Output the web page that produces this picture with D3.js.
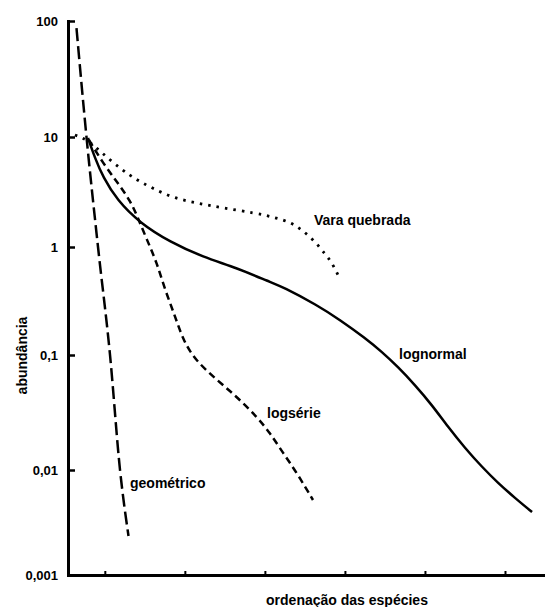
<!DOCTYPE html>
<html>
<head>
<meta charset="utf-8">
<script src="https://cdnjs.cloudflare.com/ajax/libs/d3/7.8.5/d3.min.js"></script>
<style>
  body { margin: 0; background: #fff; }
  text { font-family: "Liberation Sans", Arial, sans-serif; font-weight: bold; fill: #000; }
</style>
</head>
<body>
<svg id="chart" width="545" height="607"></svg>
<script>

// ordem das espécies (rank) e abundâncias
var geoRank   = [6.46, 7.71, 9.15, 10.65, 11.90, 12.96];
var geoAbund  = [87.0, 10, 1, 0.1, 0.01, 0.00235];

var logsRank  = [8.02, 9.77, 11.52, 13.15, 14.15, 15.27, 16.52, 17.52, 18.77, 19.77, 21.27, 24.02, 26.52, 29.02, 30.64, 32.26, 34.01, 36.01];
var logsAbund = [9.39, 5.80, 3.90, 2.67, 1.83, 1.16, 0.711, 0.400, 0.230, 0.138, 0.0905, 0.0606, 0.0431, 0.0289, 0.0210, 0.0141, 0.00936, 0.00518];

var lnRank    = [7.90, 8.77, 9.77, 11.52, 14.40, 18.15, 22.27, 26.52, 30.64, 32.26, 36.51, 39.39, 42.51, 44.64, 46.63, 48.76, 50.88, 52.88, 55.01, 57.13, 59.13, 61.25, 63.38];
var lnAbund   = [9.79, 6.44, 4.33, 2.67, 1.65, 1.11, 0.808, 0.639, 0.474, 0.426, 0.290, 0.211, 0.1437, 0.1066, 0.0787, 0.0548, 0.0367, 0.0237, 0.0155, 0.01062, 0.00752, 0.00541, 0.00398];

var bsRank    = [6.27, 7.90, 9.65, 12.15, 14.02, 15.90, 18.52, 21.52, 24.77, 28.77, 31.02, 33.14, 34.64, 36.26, 37.51, 38.26, 39.14];
var bsAbund   = [10.4, 9.39, 7.15, 5.01, 4.06, 3.44, 2.79, 2.51, 2.26, 2.04, 1.87, 1.69, 1.43, 1.13, 0.861, 0.742, 0.550];

var yTicks      = [100, 10, 1, 0.1, 0.01, 0.001];
var yTickLabels = ["100", "10", "1", "0,1", "0,01", "0,001"];
var xTicks      = [10, 20, 30, 40, 50, 60];

var svg = d3.select("#chart");

// escalas (log desenhado à mão, décadas com tamanhos ligeiramente diferentes)
var x = d3.scaleLinear()
    .domain([5.4, 65])
    .range([68, 545]);

var y = d3.scaleLog()
    .domain([0.001, 0.01, 0.1, 1, 10, 100])
    .range([575, 470, 355, 247, 137, 21]);

function zip(a, b) {
  return a.map(function(d, i) { return {r: d, v: b[i]}; });
}

var line = d3.line()
    .x(function(d) { return x(d.r); })
    .y(function(d) { return y(d.v); })
    .curve(d3.curveMonotoneX);

// curva suavizada p/ lognormal e logsérie (pontos lidos têm ruído)
var smooth = d3.line()
    .x(function(d) { return x(d.r); })
    .y(function(d) { return y(d.v); })
    .curve(d3.curveBasis);

// eixo y
var yAxis = svg.append("g")
    .attr("transform", "translate(" + x(5.4) + ",0)")
    .call(d3.axisLeft(y)
      .tickValues(yTicks)
      .tickFormat(function(d, i) { return yTickLabels[i]; })
      .tickSizeInner(-7)
      .tickSizeOuter(0)
      .tickPadding(10));
yAxis.select(".domain").attr("stroke-width", 3).attr("stroke-linecap", "square");
yAxis.selectAll(".tick line").attr("stroke-width", 2.5);
yAxis.selectAll(".tick text")
    .attr("font-size", 13)
    .attr("font-family", null);

// eixo x
var xAxis = svg.append("g")
    .attr("transform", "translate(0," + y(0.001) + ")")
    .call(d3.axisBottom(x)
      .tickValues(xTicks)
      .tickFormat("")
      .tickSizeInner(-4)
      .tickSizeOuter(0));
xAxis.select(".domain").attr("stroke-width", 3);
xAxis.selectAll(".tick line").attr("stroke-width", 2);

// curvas
svg.append("path")
    .datum(zip(geoRank, geoAbund))
    .attr("fill", "none")
    .attr("stroke", "#000")
    .attr("stroke-width", 2.5)
    .style("stroke-dasharray", ("13, 5"))
    .attr("d", line);

svg.append("path")
    .datum(zip(logsRank, logsAbund))
    .attr("fill", "none")
    .attr("stroke", "#000")
    .attr("stroke-width", 2.5)
    .style("stroke-dasharray", ("7, 4.5"))
    .attr("d", smooth);

svg.append("path")
    .datum(zip(lnRank, lnAbund))
    .attr("fill", "none")
    .attr("stroke", "#000")
    .attr("stroke-width", 2.5)
    .attr("d", smooth);

svg.append("path")
    .datum(zip(bsRank, bsAbund))
    .attr("fill", "none")
    .attr("stroke", "#000")
    .attr("stroke-width", 2.8)
    .style("stroke-dasharray", ("2.5, 6"))
    .attr("d", smooth);

// rótulos
var labels = [
  {t: "Vara quebrada", x: 314, y: 224.5},
  {t: "lognormal",     x: 399, y: 358.5},
  {t: "logsérie",      x: 267, y: 418},
  {t: "geométrico",    x: 130, y: 488}
];
svg.selectAll(".lbl").data(labels)
  .enter()
  .append("text")
    .attr("class", "lbl")
    .attr("x", function(d) { return d.x; })
    .attr("y", function(d) { return d.y; })
    .attr("font-size", 14)
    .text(function(d) { return d.t; });

// título eixo x
svg.append("text")
    .attr("x", 347)
    .attr("y", 605)
    .attr("font-size", 14)
    .style("text-anchor", "middle")
    .text("ordenação das espécies");

// título eixo y
svg.append("text")
    .attr("transform", "rotate(-90)")
    .attr("x", -355.5)
    .attr("y", 26.5)
    .attr("font-size", 14)
    .style("text-anchor", "middle")
    .text("abundância");

</script>
</body>
</html>
